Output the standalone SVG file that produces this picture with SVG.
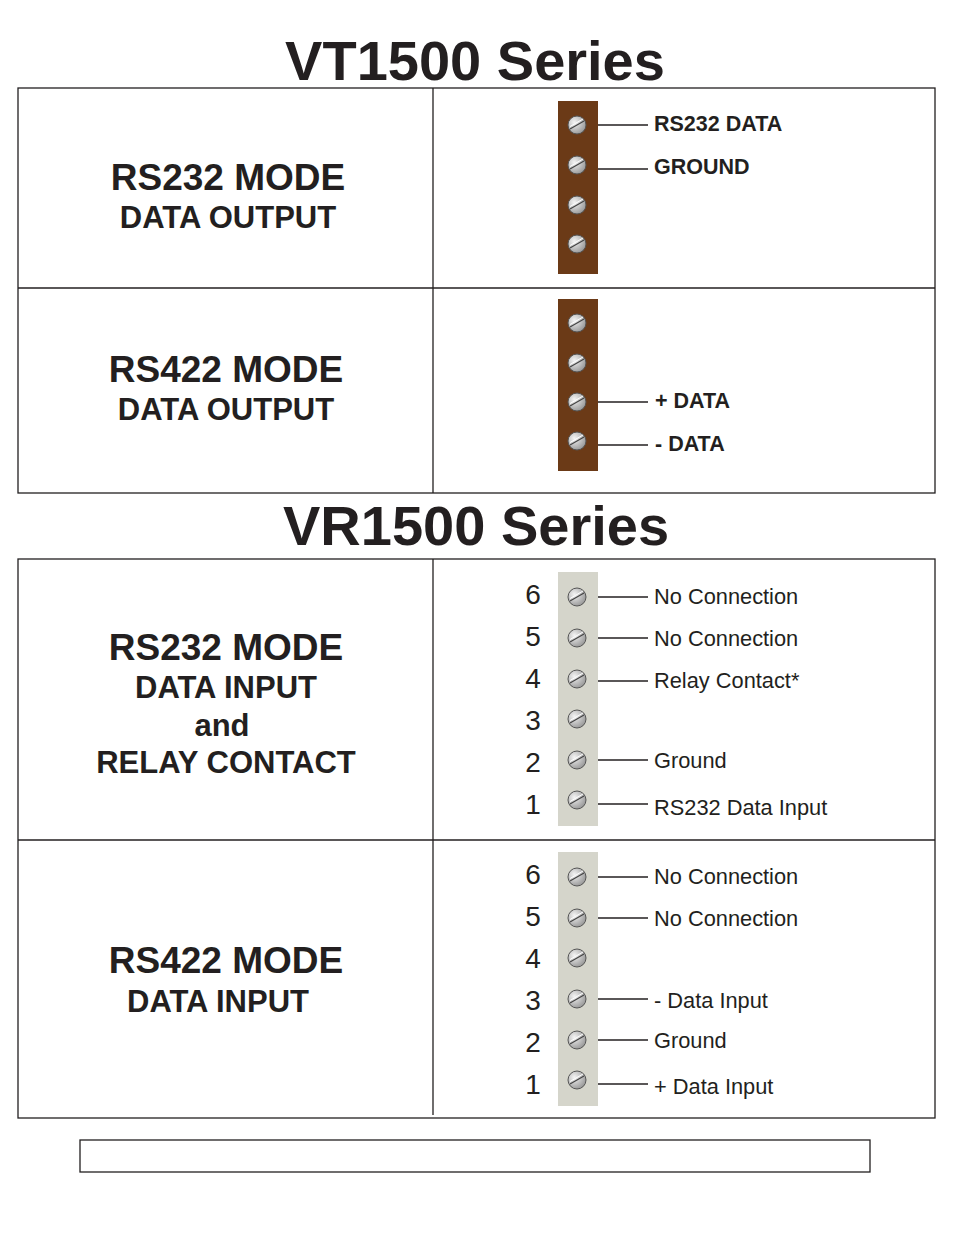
<svg xmlns="http://www.w3.org/2000/svg" width="954" height="1235" viewBox="0 0 954 1235">
<style>
text{font-family:"Liberation Sans",Arial,sans-serif;fill:#231f20}
.t{font-size:56px;font-weight:bold;text-anchor:middle}
.h{font-size:37px;font-weight:bold;text-anchor:middle}
.s{font-size:31px;font-weight:bold;text-anchor:middle}
.lb{font-size:21.5px;font-weight:bold}
.l{font-size:21.8px}
.n{font-size:28px;text-anchor:middle}
.box{fill:none;stroke:#231f20;stroke-width:1.3}
.w{stroke:#231f20;stroke-width:1.3}
</style>
<defs>
<radialGradient id="g" cx="0.35" cy="0.35" r="0.8"><stop offset="0" stop-color="#f4f4f4"/><stop offset="1" stop-color="#8a8a8a"/></radialGradient>
<g id="sc"><circle r="9" fill="url(#g)" stroke="#555" stroke-width="1"/><line x1="-7" y1="4" x2="7" y2="-4" stroke="#444" stroke-width="1.2"/><line x1="-7" y1="1.5" x2="6" y2="-6" stroke="#fff" stroke-width="1"/></g>
</defs>
<rect width="954" height="1235" fill="#fff"/>
<text class="t" x="475" y="80">VT1500 Series</text>
<text class="t" x="476" y="545">VR1500 Series</text>
<g id="frames">
<rect class="box" x="18" y="88" width="917" height="405"/>
<line class="w" x1="18" y1="288" x2="935" y2="288"/>
<line class="w" x1="433" y1="88" x2="433" y2="493"/>
<rect class="box" x="18" y="559" width="917" height="559"/>
<line class="w" x1="18" y1="840" x2="935" y2="840"/>
<line class="w" x1="433" y1="559" x2="433" y2="1115"/>
<rect class="box" x="80" y="1140" width="790" height="32"/>
</g>
<g id="label1"><text class="h" x="228" y="190">RS232 MODE</text><text class="s" x="228" y="228">DATA OUTPUT</text></g>
<g id="label2"><text class="h" x="226" y="382">RS422 MODE</text><text class="s" x="226" y="420">DATA OUTPUT</text></g>
<g id="label3"><text class="h" x="226" y="660">RS232 MODE</text><text class="s" x="226" y="698">DATA INPUT</text><text class="s" x="222" y="736">and</text><text class="s" x="226" y="773">RELAY CONTACT</text></g>
<g id="label4"><text class="h" x="226" y="973">RS422 MODE</text><text class="s" x="218" y="1012">DATA INPUT</text></g>
<g id="block1">
<rect x="558" y="101" width="40" height="173" fill="#6b3a17"/>
<use href="#sc" x="577" y="125"/><use href="#sc" x="577" y="165"/><use href="#sc" x="577" y="205"/><use href="#sc" x="577" y="244"/>
<text class="lb" x="654" y="131">RS232 DATA</text><text class="lb" x="654" y="174">GROUND</text>
</g>
<g id="block2">
<rect x="558" y="299" width="40" height="172" fill="#6b3a17"/>
<use href="#sc" x="577" y="323"/><use href="#sc" x="577" y="363"/><use href="#sc" x="577" y="402"/><use href="#sc" x="577" y="441"/>
<text class="lb" x="655" y="408">+ DATA</text><text class="lb" x="655" y="451">- DATA</text>
</g>
<g id="block3">
<rect x="558" y="572" width="40" height="254" fill="#d5d5cb"/>
<use href="#sc" x="577" y="597"/><use href="#sc" x="577" y="638"/><use href="#sc" x="577" y="679"/><use href="#sc" x="577" y="719"/><use href="#sc" x="577" y="760"/><use href="#sc" x="577" y="800"/>
<text class="n" x="533" y="604">6</text><text class="n" x="533" y="646">5</text><text class="n" x="533" y="688">4</text><text class="n" x="533" y="730">3</text><text class="n" x="533" y="772">2</text><text class="n" x="533" y="814">1</text>
<text class="l" x="654" y="604">No Connection</text><text class="l" x="654" y="646">No Connection</text><text class="l" x="654" y="688">Relay Contact*</text><text class="l" x="654" y="768">Ground</text><text class="l" x="654" y="815">RS232 Data Input</text>
</g>
<g id="block4">
<rect x="558" y="852" width="40" height="254" fill="#d5d5cb"/>
<use href="#sc" x="577" y="877"/><use href="#sc" x="577" y="918"/><use href="#sc" x="577" y="958"/><use href="#sc" x="577" y="999"/><use href="#sc" x="577" y="1040"/><use href="#sc" x="577" y="1080"/>
<text class="n" x="533" y="884">6</text><text class="n" x="533" y="926">5</text><text class="n" x="533" y="968">4</text><text class="n" x="533" y="1010">3</text><text class="n" x="533" y="1052">2</text><text class="n" x="533" y="1094">1</text>
<text class="l" x="654" y="884">No Connection</text><text class="l" x="654" y="926">No Connection</text><text class="l" x="654" y="1008">- Data Input</text><text class="l" x="654" y="1048">Ground</text><text class="l" x="654" y="1094">+ Data Input</text>
</g>
<g id="connectors" stroke="#231f20" stroke-width="1.3">
<line x1="598" y1="125" x2="648" y2="125"/><line x1="598" y1="169" x2="648" y2="169"/>
<line x1="598" y1="402" x2="648" y2="402"/><line x1="598" y1="445" x2="648" y2="445"/>
<line x1="598" y1="597" x2="648" y2="597"/><line x1="598" y1="638" x2="648" y2="638"/><line x1="598" y1="681" x2="648" y2="681"/><line x1="598" y1="760" x2="648" y2="760"/><line x1="598" y1="804" x2="648" y2="804"/>
<line x1="598" y1="877" x2="648" y2="877"/><line x1="598" y1="918" x2="648" y2="918"/><line x1="598" y1="999" x2="648" y2="999"/><line x1="598" y1="1040" x2="648" y2="1040"/><line x1="598" y1="1084" x2="648" y2="1084"/>
</g>
</svg>
